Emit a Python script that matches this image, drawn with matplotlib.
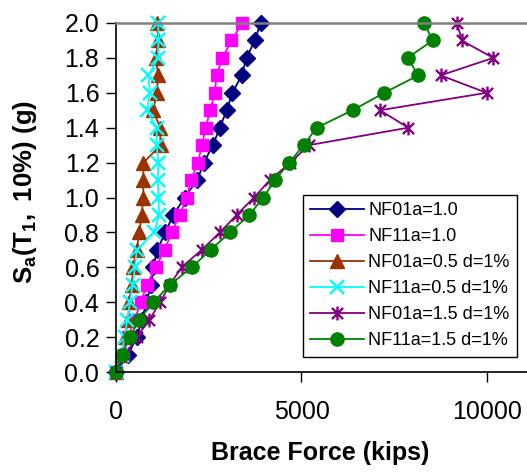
import matplotlib
matplotlib.use("Agg")
import matplotlib.pyplot as plt
from matplotlib.path import Path

plt.rcParams['font.family'] = ['Liberation Sans', 'DejaVu Sans']
plt.rcParams['mathtext.fontset'] = 'custom'
plt.rcParams['mathtext.rm'] = 'Liberation Sans:bold'
plt.rcParams['mathtext.bf'] = 'Liberation Sans:bold'
plt.rcParams['mathtext.it'] = 'Liberation Sans:bold'

sa = [0.0, 0.1, 0.2, 0.3, 0.4, 0.5, 0.6, 0.7, 0.8, 0.9, 1.0,
      1.1, 1.2, 1.3, 1.4, 1.5, 1.6, 1.7, 1.8, 1.9, 2.0]

nf01_a10 = [0, 330, 560, 700, 820, 950, 1000, 1114, 1330, 1545, 1850,
            2190, 2370, 2610, 2800, 2983, 3140, 3387, 3520, 3740, 3900]
nf11_a10 = [0, 180, 330, 500, 670, 830, 1070, 1310, 1500, 1715, 1915,
            2020, 2205, 2318, 2413, 2543, 2660, 2713, 2870, 3110, 3410]
nf01_a05 = [0, 150, 240, 330, 360, 423, 467, 557, 629, 692, 736,
            736, 740, 1204, 1186, 1006, 1096, 1141, 1069, 1141, 1096]
nf11_a05 = [0, 150, 230, 305, 377, 449, 512, 557, 1030, 1160, 1145,
            1123, 1141, 1096, 1096, 827, 916, 871, 1141, 1141, 1141]
nf01_a15 = [0, 250, 560, 900, 1190, 1450, 1770, 2309, 2803, 3252, 3720,
            4150, 4700, 5200, 7879, 7116, 9990, 8752, 10170, 9317, 9200]
nf11_a15 = [0, 153, 377, 620, 1006, 1456, 2040, 2552, 3073, 3594, 3971,
            4286, 4672, 5058, 5409, 6379, 7232, 8149, 7860, 8535, 8310]

labels = ["NF01a=1.0", "NF11a=1.0", "NF01a=0.5 d=1%",
          "NF11a=0.5 d=1%", "NF01a=1.5 d=1%", "NF11a=1.5 d=1%"]

star = Path([(-1, -1), (1, 1), (-1, 1), (1, -1), (0, -1.25), (0, 1.25)],
            [Path.MOVETO, Path.LINETO, Path.MOVETO, Path.LINETO,
             Path.MOVETO, Path.LINETO])

W, H = 527, 475
fig = plt.figure(figsize=(W / 100, H / 100), dpi=100)
ax = fig.add_axes([116 / W, (H - 372) / H, (W - 116) / W, (372 - 23) / H])

lw = 1.3
ax.plot(nf01_a10, sa, color='#000080', marker='D', ms=8, lw=lw,
        label=labels[0], clip_on=False)
ax.plot(nf11_a10, sa, color='#FF00FF', marker='s', ms=9, lw=lw,
        label=labels[1], clip_on=False)
ax.plot(nf01_a05, sa, color='#993300', marker='^', ms=10, lw=lw,
        label=labels[2], clip_on=False)
ax.plot(nf11_a05, sa, color='#00FFFF', marker='x', ms=9.5, mew=1.7, lw=lw,
        label=labels[3], clip_on=False)
ax.plot(nf01_a15, sa, color='#800080', marker=star, ms=10, mew=1.7,
        mfc='none', lw=lw, label=labels[4], clip_on=False)
ax.plot(nf11_a15, sa, color='#008000', marker='o', ms=9.5, lw=lw,
        label=labels[5], clip_on=False)

ax.set_xlim(0, 11080)
ax.set_ylim(0, 2.0)
ax.set_xticks([0, 5000, 10000])
ax.set_yticks([i / 10 for i in range(0, 21, 2)])
ax.set_yticklabels([f"{i / 10:.1f}" for i in range(0, 21, 2)])

ax.tick_params(axis='both', direction='out', length=7, width=1,
               labelsize=18, colors='black')
ax.tick_params(axis='x', pad=13)
ax.tick_params(axis='y', pad=5)

ax.spines['right'].set_visible(False)
ax.spines['top'].set_color('#808080')
ax.spines['top'].set_linewidth(1.8)
ax.spines['left'].set_linewidth(1.2)
ax.spines['bottom'].set_linewidth(1.2)

fig.text(320 / W, 1 - 453 / H, "Brace Force (kips)", fontsize=18,
         fontweight='bold', ha='center', va='center')
fig.text(25 / W, 1 - 192 / H, r"$\mathbf{S_a(T_1,\ 10\%)\ (g)}$",
         fontsize=18.5, rotation=90, ha='center', va='center')

leg = ax.legend(loc='upper left', bbox_to_anchor=(303 / W, 1 - 195 / H),
                bbox_transform=fig.transFigure, fontsize=13,
                frameon=True, fancybox=False, framealpha=1,
                edgecolor='black', handlelength=3.0, handletextpad=0.2,
                labelspacing=0.5, borderpad=0.4, borderaxespad=0)
leg.get_frame().set_linewidth(1)

fig.savefig("out.png", dpi=100)
